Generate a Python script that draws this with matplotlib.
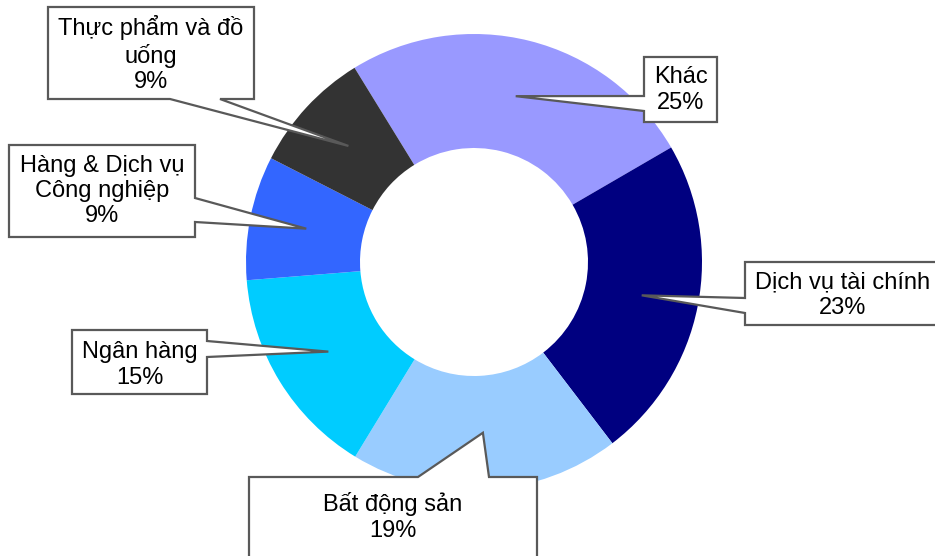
import numpy as np
import matplotlib
matplotlib.use("Agg")
import matplotlib.pyplot as plt
from matplotlib.patches import Polygon

# ---- data ----
categories = ["Khác", "Dịch vụ tài chính", "Bất động sản", "Ngân hàng",
              "Hàng & Dịch vụ Công nghiệp", "Thực phẩm và đồ uống"]
values = [25.4, 23.0, 19.1, 15.0, 8.8, 8.7]
colors = ["#9999FF", "#000080", "#99CCFF", "#00CCFF", "#3366FF", "#333333"]
display_names = ["Khác", "Dịch vụ tài chính", "Bất động sản", "Ngân hàng",
                 "Hàng & Dịch vụ\nCông nghiệp", "Thực phẩm và đồ\nuống"]

W, H = 935, 556
plt.rcParams['font.family'] = ['Liberation Sans', 'DejaVu Sans']

fig = plt.figure(figsize=(W / 100, H / 100), dpi=100)
ax = fig.add_axes([0, 0, 1, 1])

def py(y):
    return H - y

cx, cy, R, ring = 474, py(262), 228, 114
start = 121.6
ax.pie(values, colors=colors, center=(cx, cy), radius=R, startangle=start,
       counterclock=False, wedgeprops=dict(width=ring, linewidth=0))
ax.set_xlim(0, W)
ax.set_ylim(0, H)
ax.set_aspect('equal', adjustable='box')
ax.axis('off')

# callout layout (pixel coords, y down): box, side, base interval, text center
layout = [
    ((644, 57, 717, 122), 'left', (96, 111), (681, 90)),
    ((745, 262, 960, 325), 'left', (298, 313), (843, 295)),
    ((249, 477, 537, 620), 'top', (418, 489), (393, 517)),
    ((72, 330, 207, 394), 'right', (341, 357), (140, 365)),
    ((9, 145, 195, 237), 'right', (198, 222), (102, 191)),
    ((48, 7, 254, 99), 'bottom', (170, 220), (151, 54)),
]

total = sum(values)
angle = start
for i, v in enumerate(values):
    span = 360 * v / total
    mid = np.deg2rad(angle - span / 2)
    angle -= span
    r_tip = 0.75 * R
    tx, ty = cx + r_tip * np.cos(mid), cy + r_tip * np.sin(mid)
    (x0, y0, x1, y1), side, (a, b), (lx, ly) = layout[i]
    Y0, Y1 = py(y0), py(y1)
    if side == 'left':
        pts = [(x0, Y0), (x1, Y0), (x1, Y1), (x0, Y1), (x0, py(b)), (tx, ty), (x0, py(a))]
    elif side == 'right':
        pts = [(x0, Y0), (x1, Y0), (x1, py(a)), (tx, ty), (x1, py(b)), (x1, Y1), (x0, Y1)]
    elif side == 'top':
        pts = [(x0, Y0), (a, Y0), (tx, ty), (b, Y0), (x1, Y0), (x1, Y1), (x0, Y1)]
    else:
        pts = [(x0, Y0), (x1, Y0), (x1, Y1), (b, Y1), (tx, ty), (a, Y1), (x0, Y1)]
    ax.add_patch(Polygon(pts, closed=True, facecolor='white', edgecolor='#595959',
                         linewidth=1.6, joinstyle='miter', zorder=5))
    ax.text(lx, py(ly), f"{display_names[i]}\n{v:.0f}%", ha='center', va='center',
            fontsize=17, color='black', linespacing=1.2, zorder=6)

fig.savefig("out.png", dpi=100)
